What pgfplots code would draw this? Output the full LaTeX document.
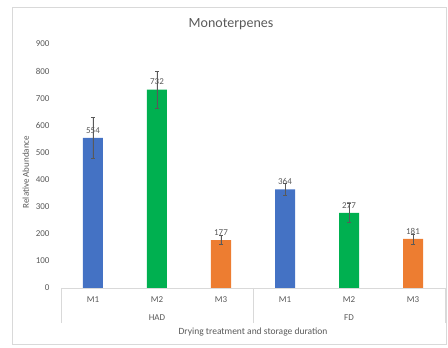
\documentclass[border=0pt]{standalone}
\usepackage{pgfplots}
\pgfplotsset{compat=1.18}
\usepackage{fontspec}
\setmainfont{Carlito}
\definecolor{barblue}{HTML}{4472C4}
\definecolor{bargreen}{HTML}{00B050}
\definecolor{barorange}{HTML}{ED7D31}
\definecolor{txtgray}{HTML}{595959}
\definecolor{linegray}{HTML}{D9D9D9}

\begin{document}
\begin{tikzpicture}[x=1pt,y=1pt]
\path (0,0) rectangle (448,348);
\draw[linegray] (12,4) rectangle (446.5,341);
\node[txtgray, font=\fontsize{14}{16}\selectfont] at (231,324) {Monoterpenes};
\begin{axis}[
    at={(61pt,60pt)}, anchor=south west,
    scale only axis, width=384pt, height=244pt,
    xmin=-0.5, xmax=5.5, ymin=0, ymax=900,
    axis lines=left,
    y axis line style={draw=none},
    x axis line style={linegray, -},
    xtick={0,...,5},
    xticklabels={M1,M2,M3,M1,M2,M3},
    ytick={0,100,...,900},
    major tick length=0pt,
    /pgf/number format/assume math mode=true,
    ticklabel style={txtgray, font=\fontsize{9}{10}\selectfont},
    yticklabel style={xshift=-8pt},
    xticklabel style={yshift=-5pt},
    ylabel={Relative Abundance},
    ylabel style={txtgray, font=\fontsize{9}{10}\selectfont, at={(ticklabel cs:0.5)}, xshift=-6pt},
    clip=false,
    every axis plot/.append style={
        ybar, bar width=20pt, bar shift=0pt, draw=none,
        nodes near coords,
        every node near coord/.append style={txtgray, font=\fontsize{9}{10}\selectfont, yshift=1pt},
        /pgfplots/error bars/y dir=both,
        /pgfplots/error bars/y explicit,
        /pgfplots/error bars/error bar style={txtgray, line width=0.6pt},
        /pgfplots/error bars/error mark options={txtgray, rotate=90, mark size=2pt, line width=0.6pt}
    },
]
\addplot[fill=barblue] coordinates {(0,554) +- (0,76) (3,364) +- (0,22)};
\addplot[fill=bargreen] coordinates {(1,732) +- (0,68) (4,277) +- (0,36)};
\addplot[fill=barorange] coordinates {(2,177) +- (0,17) (5,181) +- (0,18)};
\draw[linegray] (axis cs:-0.5,0) -- ([yshift=-35pt]axis cs:-0.5,0);
\draw[linegray] (axis cs:2.5,0) -- ([yshift=-35pt]axis cs:2.5,0);
\draw[linegray] (axis cs:5.5,0) -- ([yshift=-35pt]axis cs:5.5,0);
\node[txtgray, font=\fontsize{9}{10}\selectfont] at ([yshift=-30pt]axis cs:1,0) {HAD};
\node[txtgray, font=\fontsize{9}{10}\selectfont] at ([yshift=-30pt]axis cs:4,0) {FD};
\node[txtgray, font=\fontsize{9.5}{11}\selectfont] at ([yshift=-44pt]axis cs:2.5,0) {Drying treatment and storage duration};
\end{axis}
\end{tikzpicture}
\end{document}
